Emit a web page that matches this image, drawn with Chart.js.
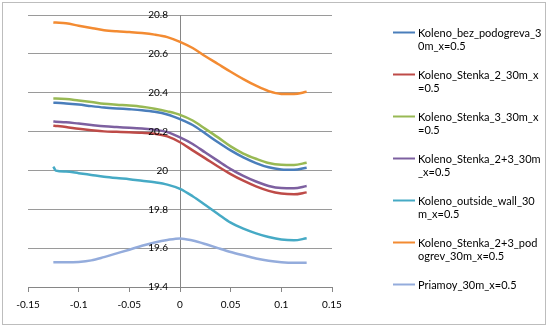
<!DOCTYPE html>
<html><head><meta charset="utf-8">
<script src="https://cdn.jsdelivr.net/npm/chart.js@4/dist/chart.umd.min.js"></script>
<style>html,body{margin:0;padding:0;background:#fff;overflow:hidden}#wrap{width:549px;height:329px;position:relative}</style>
</head><body><div id="wrap"><canvas id="c" width="549" height="329"></canvas></div>
<script>
// x positions (shared by all series)
const xValues = [-0.125, -0.1225, -0.1125, -0.1, -0.0875, -0.075, -0.0625, -0.05, -0.0375, -0.025, -0.0125, 0, 0.0125, 0.025, 0.0375, 0.05, 0.0625, 0.075, 0.0875, 0.1, 0.1125, 0.125];

const seriesNames = ["Koleno_bez_podogreva_30m_x=0.5", "Koleno_Stenka_2_30m_x=0.5", "Koleno_Stenka_3_30m_x=0.5", "Koleno_Stenka_2+3_30m_x=0.5", "Koleno_outside_wall_30m_x=0.5", "Koleno_Stenka_2+3_podogrev_30m_x=0.5", "Priamoy_30m_x=0.5"];
const legendLines = [["Koleno_bez_podogreva_3", "0m_x=0.5"], ["Koleno_Stenka_2_30m_x", "=0.5"], ["Koleno_Stenka_3_30m_x", "=0.5"], ["Koleno_Stenka_2+3_30m", "_x=0.5"], ["Koleno_outside_wall_30", "m_x=0.5"], ["Koleno_Stenka_2+3_pod", "ogrev_30m_x=0.5"], ["Priamoy_30m_x=0.5"]];
const seriesColors = ["#4a7ebb", "#be4b48", "#98b954", "#7d60a0", "#46aac5", "#f38b32", "#94acdc"];

const kolenoBez = [20.349, 20.348, 20.345, 20.339, 20.331, 20.324, 20.319, 20.315, 20.310, 20.302, 20.288, 20.264, 20.234, 20.190, 20.145, 20.103, 20.067, 20.038, 20.016, 20.005, 20.003, 20.014];
const kolenoStenka2 = [20.230, 20.229, 20.224, 20.214, 20.207, 20.201, 20.199, 20.197, 20.194, 20.189, 20.175, 20.145, 20.103, 20.062, 20.020, 19.981, 19.947, 19.918, 19.895, 19.881, 19.877, 19.887];
const kolenoStenka3 = [20.370, 20.370, 20.368, 20.360, 20.352, 20.343, 20.338, 20.334, 20.328, 20.318, 20.304, 20.286, 20.257, 20.214, 20.170, 20.124, 20.087, 20.060, 20.038, 20.029, 20.028, 20.040];
const kolenoStenka23 = [20.252, 20.251, 20.248, 20.241, 20.234, 20.227, 20.223, 20.220, 20.216, 20.210, 20.197, 20.170, 20.136, 20.092, 20.049, 20.007, 19.972, 19.943, 19.920, 19.909, 19.908, 19.920];
const kolenoOutside = [20.020, 19.999, 19.994, 19.986, 19.977, 19.968, 19.961, 19.955, 19.947, 19.939, 19.927, 19.905, 19.867, 19.822, 19.776, 19.731, 19.700, 19.676, 19.657, 19.644, 19.640, 19.651];
const kolenoPodogrev = [20.762, 20.761, 20.757, 20.745, 20.733, 20.722, 20.716, 20.712, 20.707, 20.699, 20.686, 20.662, 20.630, 20.588, 20.548, 20.508, 20.470, 20.436, 20.408, 20.394, 20.393, 20.405];
const priamoy = [19.527, 19.527, 19.527, 19.529, 19.537, 19.554, 19.573, 19.592, 19.612, 19.629, 19.642, 19.650, 19.639, 19.621, 19.600, 19.580, 19.563, 19.547, 19.535, 19.528, 19.525, 19.525];

const xTicks = [-0.15, -0.1, -0.05, 0, 0.05, 0.1, 0.15];
const yTicks = [19.4, 19.6, 19.8, 20, 20.2, 20.4, 20.6, 20.8];

const allSeries = [kolenoBez, kolenoStenka2, kolenoStenka3, kolenoStenka23, kolenoOutside, kolenoPodogrev, priamoy];
const fmt = v => String(Number(Number(v).toFixed(3)));
const FONT = "Lato, 'Liberation Sans', sans-serif";

const framePlugin = {
  id: 'frame',
  beforeDraw(chart) {
    const ctx = chart.ctx;
    ctx.save();
    ctx.fillStyle = '#fff';
    ctx.fillRect(0, 0, chart.width, chart.height);
    ctx.strokeStyle = '#bdbdbd';
    ctx.lineWidth = 1;
    ctx.strokeRect(2.5, 2.5, 543, 322);
    ctx.restore();
  },
  afterDraw(chart) {
    const ctx = chart.ctx;
    ctx.save();
    // y tick labels, placed left of the axis line that crosses at x = 0
    const ys = chart.scales.y, xs = chart.scales.x;
    const axisX = xs.getPixelForValue(0);
    ctx.font = "10px " + FONT;
    ctx.fillStyle = '#000';
    ctx.textAlign = 'right';
    ctx.textBaseline = 'middle';
    ys.ticks.forEach(t => ctx.fillText(fmt(t.value), axisX - 12, ys.getPixelForValue(t.value)));
    // legend
    ctx.font = "11px " + FONT;
    ctx.textAlign = 'left';
    chart.data.datasets.forEach((ds, i) => {
      const y0 = 32 + 42 * i;
      ctx.strokeStyle = ds.borderColor;
      ctx.lineWidth = 2;
      ctx.beginPath();
      ctx.moveTo(393, y0 + 0.5);
      ctx.lineTo(415, y0 + 0.5);
      ctx.stroke();
      ctx.fillStyle = '#000';
      legendLines[i].forEach((t, k) => ctx.fillText(t, 418, y0 + 13 * k + 1));
    });
    ctx.restore();
  }
};

new Chart(document.getElementById('c'), {
  type: 'line',
  data: {
    datasets: allSeries.map((vals, i) => ({
      label: seriesNames[i],
      data: xValues.map((x, j) => ({ x: x, y: vals[j] })),
      borderColor: seriesColors[i],
      backgroundColor: seriesColors[i],
      borderWidth: 2.5,
      pointRadius: 0,
      cubicInterpolationMode: 'monotone',
      fill: false
    }))
  },
  options: {
    responsive: false,
    animation: false,
    devicePixelRatio: 1,
    layout: { padding: { left: 28, right: 217, top: 15, bottom: 4 } },
    plugins: { legend: { display: false }, tooltip: { enabled: false } },
    scales: {
      x: {
        type: 'linear',
        min: -0.15, max: 0.15,
        afterBuildTicks: s => { s.ticks = xTicks.map(v => ({ value: v })); },
        afterFit: s => { s.height = 38; },
        ticks: { callback: v => fmt(v), color: '#000', font: { family: FONT, size: 10 }, padding: 7, maxRotation: 0, autoSkip: false },
        grid: { drawOnChartArea: false, drawTicks: true, tickLength: 5, color: '#868686' },
        border: { display: true, color: '#868686' }
      },
      y: {
        type: 'linear',
        position: { x: 0 },
        min: 19.4, max: 20.8,
        afterBuildTicks: s => { s.ticks = yTicks.map(v => ({ value: v })); },
        ticks: { display: false },
        grid: { drawOnChartArea: true, drawTicks: false, color: '#9a9a9a' },
        border: { display: true, color: '#868686' }
      }
    }
  },
  plugins: [framePlugin]
});
</script></body></html>
